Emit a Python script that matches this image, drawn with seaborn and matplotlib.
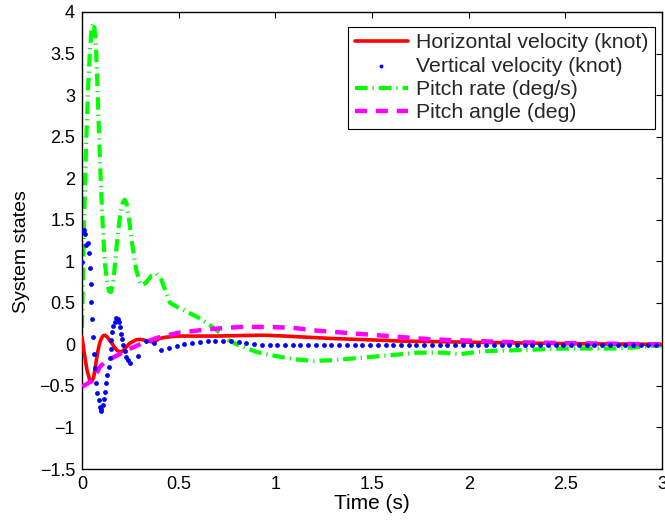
import numpy as np
import pandas as pd
import matplotlib
matplotlib.use("Agg")
import matplotlib.pyplot as plt
import seaborn as sns

# ---------------- data ----------------
horiz_t = [0.0, 0.01, 0.025, 0.04, 0.05, 0.06, 0.067, 0.075, 0.083, 0.092, 0.1, 0.11, 0.12, 0.13,
           0.14, 0.155, 0.17, 0.18, 0.195, 0.205, 0.215, 0.23, 0.245, 0.26, 0.28, 0.3, 0.315,
           0.33, 0.36, 0.38, 0.4, 0.43, 0.45, 0.5, 0.6, 0.7, 0.8, 0.94, 1.05, 1.13, 1.3, 1.54,
           1.64, 1.9, 2.16, 2.4, 2.68, 2.85, 3.0]
horiz_v = [0.09, -0.08, -0.3, -0.43, -0.45, -0.4, -0.3, -0.18, -0.07, 0.02, 0.07, 0.105, 0.11, 0.09,
           0.06, 0.01, -0.04, -0.07, -0.09, -0.09, -0.07, -0.03, 0.01, 0.03, 0.055, 0.06, 0.055,
           0.045, 0.03, 0.04, 0.07, 0.085, 0.09, 0.1, 0.1, 0.1, 0.105, 0.11, 0.1, 0.09, 0.07, 0.05,
           0.04, 0.03, 0.02, 0.012, 0.005, 0.003, 0.0]

vert_t = [0.0, 0.005, 0.010, 0.016, 0.022, 0.031, 0.035, 0.040, 0.045, 0.048, 0.052, 0.057,
          0.062, 0.069, 0.074, 0.079, 0.086, 0.091, 0.096, 0.100, 0.108, 0.114, 0.117, 0.126,
          0.131, 0.138, 0.143, 0.148, 0.152, 0.157, 0.162, 0.169, 0.177, 0.186, 0.191, 0.198,
          0.203, 0.208, 0.212, 0.220, 0.229, 0.238, 0.246, 0.29, 0.33, 0.37, 0.41, 0.45, 0.49,
          0.53, 0.57, 0.61, 0.65, 0.69, 0.73, 0.77, 0.81, 0.85, 0.89, 0.93, 0.97, 1.01, 1.05,
          1.09, 1.13, 1.17, 1.21, 1.25, 1.29, 1.33, 1.37, 1.41, 1.45, 1.49, 1.53, 1.57, 1.61,
          1.65, 1.69, 1.73, 1.77, 1.81, 1.85, 1.89, 1.93, 1.97, 2.01, 2.05, 2.09, 2.13, 2.17,
          2.21, 2.25, 2.29, 2.33, 2.37, 2.41, 2.45, 2.49, 2.53, 2.57, 2.61, 2.65, 2.69, 2.73,
          2.77, 2.81, 2.85, 2.89, 2.93, 2.97]
vert_v = [0.99, 1.36, 1.38, 1.33, 1.2, 1.22, 1.1, 0.92, 0.73, 0.51, 0.31, 0.09,
          -0.11, -0.29, -0.46, -0.58, -0.67, -0.75, -0.8, -0.78, -0.73, -0.66, -0.57, -0.46,
          -0.37, -0.27, -0.16, -0.05, 0.05, 0.15, 0.22, 0.27, 0.32, 0.31, 0.27, 0.21,
          0.13, 0.06, -0.01, -0.08, -0.15, -0.19, -0.22, -0.14, 0.045, 0.015, -0.07, -0.04, -0.02,
          0.0, 0.02, 0.03, 0.04, 0.04, 0.04, 0.04, 0.03, 0.02, 0.0, -0.01, -0.01, -0.01, -0.01,
          -0.01, -0.01, -0.01, -0.01, -0.01, -0.01, -0.01, -0.01, -0.01, -0.01, -0.01, -0.01, -0.01, -0.01,
          -0.01, -0.01, -0.01, -0.01, -0.01, -0.01, -0.005, -0.005, -0.005, -0.005, -0.005, -0.005, -0.005, -0.005,
          -0.005, -0.005, -0.005, -0.005, -0.005, -0.005, -0.005, -0.005, -0.005, -0.005, -0.005, -0.005, -0.005, -0.005,
          -0.005, -0.005, -0.005, -0.005, -0.005, -0.005]

prate_t = [0.0, 0.005, 0.012, 0.02, 0.03, 0.04, 0.05, 0.06, 0.07, 0.08, 0.09, 0.1, 0.11, 0.12,
           0.13, 0.14, 0.15, 0.16, 0.17, 0.18, 0.19, 0.2, 0.21, 0.22, 0.23, 0.24, 0.26, 0.28,
           0.3, 0.31, 0.33, 0.36, 0.385, 0.41, 0.455, 0.5, 0.57, 0.62, 0.68, 0.76, 0.8, 0.9,
           1.0, 1.1, 1.2, 1.3, 1.45, 1.6, 1.73, 1.87, 1.95, 2.05, 2.11, 2.25, 2.5, 2.75, 2.9, 3.0]
prate_v = [0.2, 0.8, 1.6, 2.3, 3.0, 3.5, 3.8, 3.87, 3.7, 3.1, 2.4, 1.8, 1.3, 0.95,
           0.75, 0.64, 0.63, 0.72, 0.95, 1.2, 1.42, 1.6, 1.7, 1.74, 1.7, 1.56, 1.2, 0.9,
           0.74, 0.71, 0.74, 0.83, 0.85, 0.78, 0.5, 0.44, 0.36, 0.3, 0.2, 0.05, 0.0, -0.09,
           -0.14, -0.18, -0.2, -0.19, -0.16, -0.13, -0.1, -0.1, -0.12, -0.09, -0.08, -0.07, -0.05, -0.05, -0.03, -0.01]

pangle_t = [0.0, 0.03, 0.057, 0.075, 0.093, 0.12, 0.16, 0.2, 0.23, 0.27, 0.32, 0.39, 0.5, 0.61,
            0.7, 0.82, 0.95, 1.09, 1.19, 1.3, 1.47, 1.64, 1.81, 2.0, 2.16, 2.5, 2.85, 3.0]
pangle_v = [-0.51, -0.47, -0.43, -0.35, -0.27, -0.21, -0.16, -0.11, -0.07, -0.03, 0.02, 0.08, 0.14, 0.17,
            0.19, 0.21, 0.21, 0.2, 0.17, 0.15, 0.12, 0.09, 0.06, 0.045, 0.03, 0.015, 0.005, 0.0]

labels = ["Horizontal velocity (knot)", "Vertical velocity (knot)",
          "Pitch rate (deg/s)", "Pitch angle (deg)"]
x_ticks = [0, 0.5, 1, 1.5, 2, 2.5, 3]
y_ticks = [-1.5, -1, -0.5, 0, 0.5, 1, 1.5, 2, 2.5, 3, 3.5, 4]

# ---------------- style ----------------
sns.set_theme(style="white")
plt.rcParams["font.family"] = ["Liberation Sans", "DejaVu Sans"]
plt.rcParams["axes.unicode_minus"] = True

fig = plt.figure(figsize=(6.65, 5.23), dpi=100)
ax = fig.add_axes([82 / 665, 1 - 469 / 523, 580 / 665, 457 / 523])

df_h = pd.DataFrame({"t": horiz_t, "v": horiz_v})
df_v = pd.DataFrame({"t": vert_t, "v": vert_v})
df_r = pd.DataFrame({"t": prate_t, "v": prate_v})
df_a = pd.DataFrame({"t": pangle_t, "v": pangle_v})

sns.lineplot(data=df_h, x="t", y="v", ax=ax, color="#ff0000", lw=2.6, sort=False,
             label=labels[0], zorder=3)
sns.scatterplot(data=df_v, x="t", y="v", ax=ax, color="#0000ff", s=12, linewidth=0,
                label=labels[1], zorder=4)
sns.lineplot(data=df_r, x="t", y="v", ax=ax, color="#00ff00", lw=3, sort=False,
             label=labels[2], zorder=2)
ax.lines[-1].set_linestyle((0, (3.0, 1.2, 0.3, 1.2)))
sns.lineplot(data=df_a, x="t", y="v", ax=ax, color="#ff00ff", lw=3.2, sort=False,
             label=labels[3], zorder=3)
ax.lines[-1].set_linestyle((0, (2.7, 2.0)))

ax.set_xlim(0, 3)
ax.set_ylim(-1.5, 4)
ax.set_xticks(x_ticks)
ax.set_xticklabels([f"{v:g}" for v in x_ticks])
ax.set_yticks(y_ticks)
ax.set_yticklabels([f"{v:g}".replace("-", "\u2212") for v in y_ticks])
ax.tick_params(direction="in", length=4, width=0.8, top=True, right=True,
               labelsize=13, colors="black", pad=5)
for s in ax.spines.values():
    s.set_color("black")
    s.set_linewidth(1.0)

ax.set_xlabel("Time (s)", fontsize=15, color="black", labelpad=1)
ax.set_ylabel("System states", fontsize=14, color="black")
ax.yaxis.set_label_coords(-0.09, 0.475)

leg = ax.legend(loc="upper right", bbox_to_anchor=(0.988, 0.967), borderaxespad=0,
                fontsize=15.3, frameon=True, fancybox=False, edgecolor="black",
                framealpha=1, handlelength=2.5, handletextpad=0.4, labelspacing=0.2,
                borderpad=0.3, scatterpoints=1, markerscale=0.8)
leg.get_frame().set_linewidth(0.8)

fig.savefig("out.png", dpi=100)
